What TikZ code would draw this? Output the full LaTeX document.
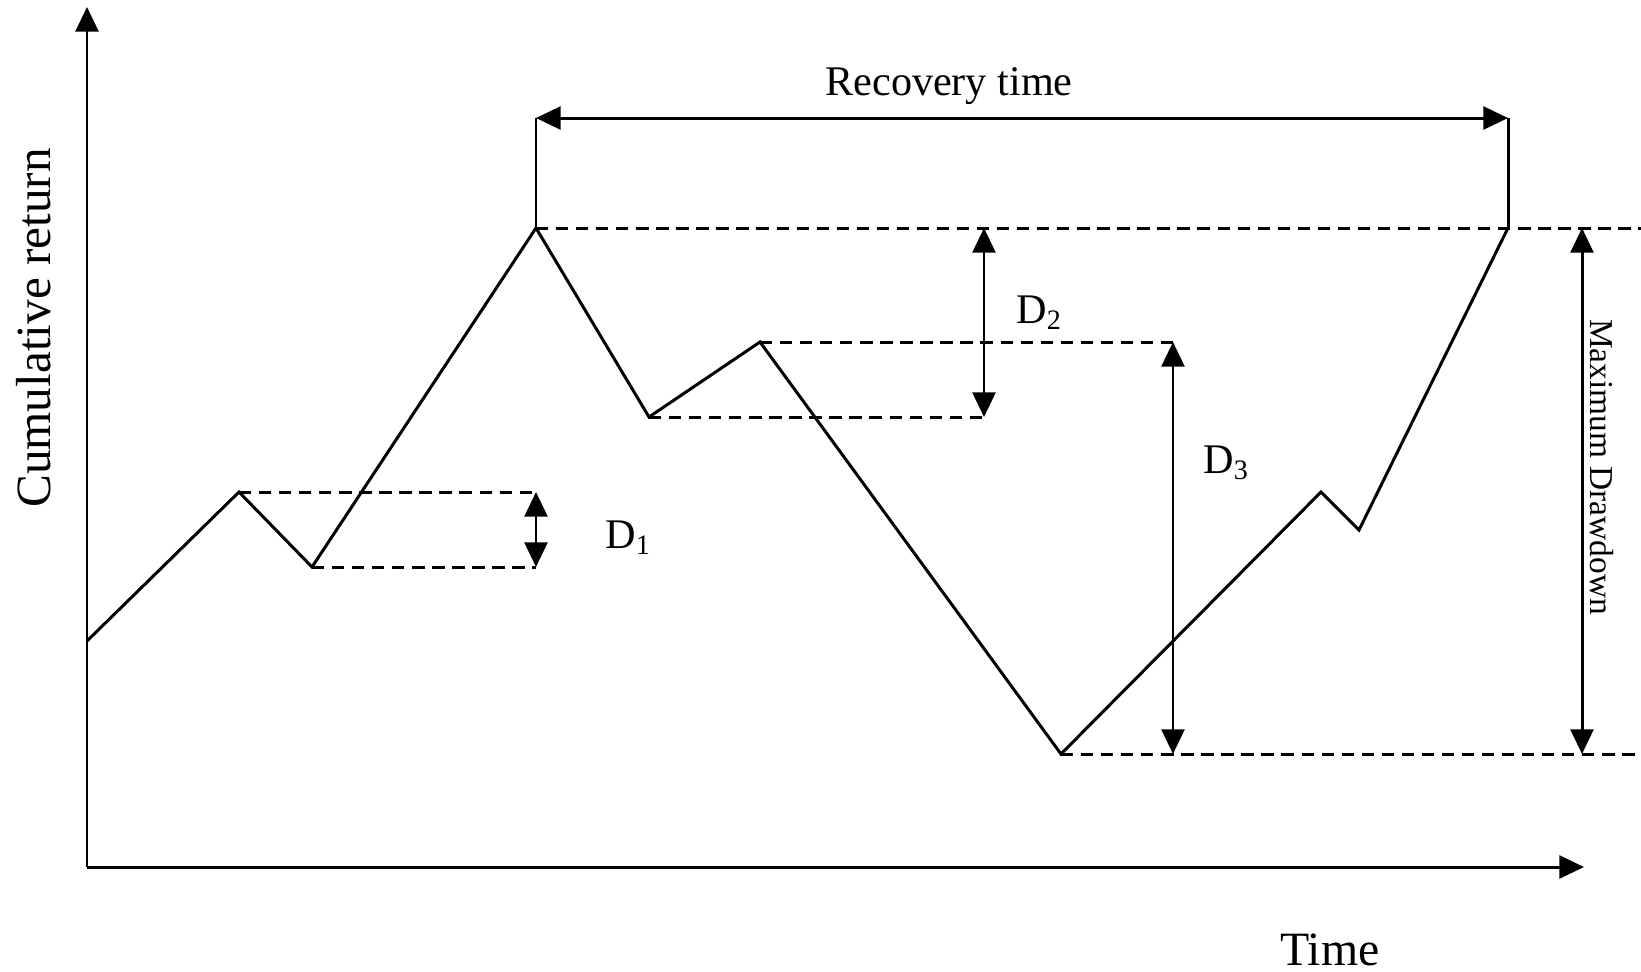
\documentclass[tikz,border=0pt]{standalone}
\usepackage{fontspec}
\setmainfont{Liberation Serif}
\usetikzlibrary{arrows.meta}
\begin{document}
\begin{tikzpicture}[x=0.01cm,y=-0.01cm,line width=0.85pt,>={Triangle[length=7pt,width=6.5pt]}]
                \tikzstyle{guide}=[dash pattern=on 3.5pt off 2.2pt]
                \tikzstyle{lbl}=[font=\fontsize{12}{14}\selectfont,inner sep=0pt]
                \useasboundingbox (0,0) rectangle (1641,972);

                % axes
                \coordinate (O) at (87,867);
                \coordinate (Y-top) at (87,7);
                \coordinate (X-end) at (1584,867);
                \draw[->] (O) -- (Y-top);
                \draw[->] (O) -- (X-end);

                % the return path
                \foreach \num/\x/\y in {0/87/641, 1/239/492, 2/312/567, 3/536/228, 4/649/417,
                                        5/760/342, 6/1061/754, 7/1321/492, 8/1359/530, 9/1508/228}
                        \coordinate (P-\num) at (\x,\y);
                \draw[line join=miter] (P-0) -- (P-1) -- (P-2) -- (P-3) -- (P-4) -- (P-5)
                        -- (P-6) -- (P-7) -- (P-8) -- (P-9);

                % guide levels
                \foreach \name/\x/\y in {D1/536/492, D1b/536/567, D2b/984/417, D3/1173/342,
                                         top/1641/228, bot/1641/754}
                        \coordinate (G-\name) at (\x,\y);
                \draw[guide] (P-1) -- (G-D1);
                \draw[guide] (P-2) -- (G-D1b);
                \draw[guide] (P-3) -- (G-top);
                \draw[guide] (P-4) -- (G-D2b);
                \draw[guide] (P-5) -- (G-D3);
                \draw[guide] (P-6) -- (G-bot);

                % drawdown arrows
                \coordinate (D2-top) at (984,228);
                \coordinate (D3-bot) at (1173,754);
                \coordinate (M-top) at (1582,228);
                \coordinate (M-bot) at (1582,754);
                \draw[<->] (G-D1) -- (G-D1b);
                \draw[<->] (D2-top) -- (G-D2b);
                \draw[<->] (G-D3) -- (D3-bot);
                \draw[<->] (M-top) -- (M-bot);

                % recovery time
                \coordinate (R-left) at (536,118);
                \coordinate (R-right) at (1508,118);
                \draw (P-3) -- (R-left);
                \draw (P-9) -- (R-right);
                \draw[<->] (R-left) -- (R-right);

                % labels
                \node[lbl,anchor=base] (L-rec) at (949,95) {Recovery time};
                \node[lbl,anchor=base west] (L-D1) at (604,548) {D\textsubscript{1}};
                \node[lbl,anchor=base west] (L-D2) at (1015,323) {D\textsubscript{2}};
                \node[lbl,anchor=base west] (L-D3) at (1202,473) {D\textsubscript{3}};
                \node[lbl,font=\fontsize{9.5}{11}\selectfont,rotate=-90] (L-mdd) at (1602,467) {Maximum Drawdown};
                \node[lbl,font=\fontsize{14}{16}\selectfont,rotate=90] (L-cum) at (34,328) {Cumulative return};
                \node[lbl,font=\fontsize{13.6}{16}\selectfont] (L-time) at (1330,950) {Time};
\end{tikzpicture}
\end{document}
